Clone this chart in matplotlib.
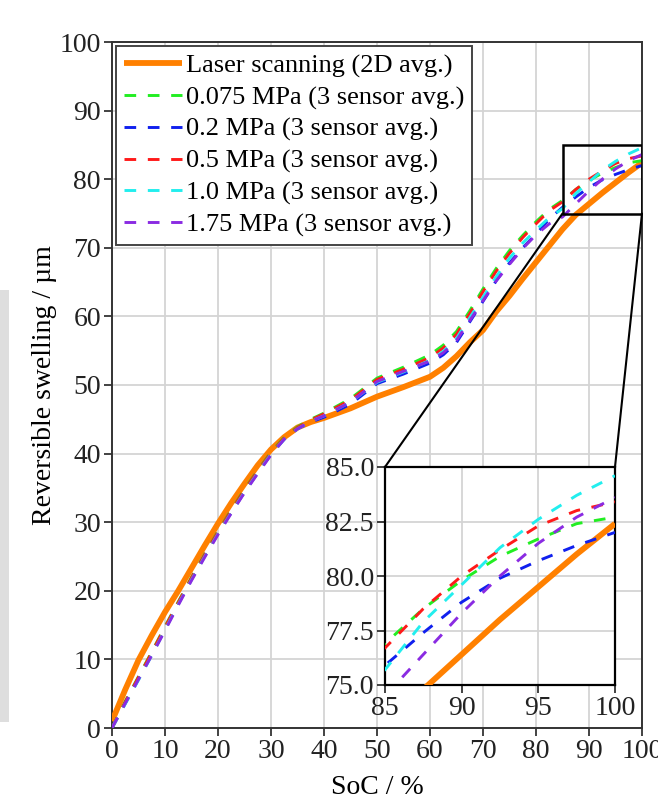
import matplotlib
matplotlib.use('Agg')
import matplotlib.pyplot as plt
from matplotlib.patches import Rectangle, ConnectionPatch

plt.rcParams['font.family'] = ['Liberation Serif', 'DejaVu Serif']

# SoC grid (%)
soc = [0, 2.5, 5, 7.5, 10, 12.5, 15, 17.5, 20, 22.5, 25, 27.5, 30, 32.5, 35, 37.5,
       40, 45, 50, 55, 60, 62.5, 65, 67.5, 70, 72.5, 75, 77.5, 80, 82.5,
       85, 87.5, 90, 92.5, 95, 97.5, 100]

laser = [1.0, 5.6, 9.9, 13.5, 16.9, 20.0, 23.3, 26.6, 29.8, 32.8, 35.6, 38.3, 40.6, 42.4, 43.8, 44.6,
         45.2, 46.6, 48.3, 49.7, 51.2, 52.5, 54.2, 56.2, 58.0, 60.7, 63.0, 65.5, 67.9, 70.3,
         72.7, 74.8, 76.4, 78.0, 79.5, 81.0, 82.4]

p0075 = [0.0, 3.9, 7.5, 11.1, 14.8, 18.4, 22.0, 25.4, 28.7, 31.8, 34.8, 37.6, 40.2, 42.4, 43.9, 45.0,
         45.9, 48.0, 51.0, 52.6, 54.4, 55.8, 57.8, 60.8, 64.0, 67.0, 69.6, 71.8, 73.8, 75.6,
         76.9, 78.5, 79.8, 80.9, 81.7, 82.4, 82.7]
p02 = [0.0, 3.6, 7.1, 10.7, 14.4, 18.1, 21.7, 25.1, 28.4, 31.4, 34.4, 37.2, 39.9, 42.1, 43.6, 44.6,
       45.3, 47.2, 50.2, 51.6, 53.2, 54.4, 56.2, 59.2, 62.2, 65.2, 67.8, 70.0, 72.0, 74.2,
       75.9, 77.4, 78.8, 79.9, 80.7, 81.4, 82.0]
p05 = [0.0, 3.8, 7.4, 11.0, 14.7, 18.3, 21.9, 25.3, 28.6, 31.7, 34.7, 37.5, 40.1, 42.3, 43.8, 44.9,
       45.8, 47.8, 50.8, 52.3, 54.0, 55.4, 57.4, 60.4, 63.6, 66.6, 69.2, 71.5, 73.5, 75.4,
       76.7, 78.5, 80.0, 81.2, 82.3, 83.0, 83.4]
p10 = [0.0, 3.5, 7.0, 10.6, 14.3, 18.0, 21.6, 25.0, 28.3, 31.4, 34.4, 37.2, 39.9, 42.1, 43.6, 44.7,
       45.5, 47.5, 50.4, 51.9, 53.6, 54.9, 56.8, 59.8, 62.8, 65.8, 68.5, 70.7, 72.6, 74.4,
       75.7, 77.9, 79.6, 81.3, 82.6, 83.7, 84.6]
p175 = [0.0, 3.6, 7.1, 10.6, 14.2, 17.9, 21.5, 24.9, 28.2, 31.3, 34.3, 37.1, 39.8, 42.1, 43.6, 44.7,
        45.5, 47.5, 50.5, 52.0, 53.5, 54.7, 56.5, 59.4, 62.3, 65.2, 67.6, 69.9, 71.9, 73.5,
        74.5, 76.4, 78.3, 80.0, 81.5, 82.7, 83.6]

series = [
    ('0.075 MPa (3 sensor avg.)', p0075, '#22ee22'),
    ('0.2 MPa (3 sensor avg.)', p02, '#1020ee'),
    ('0.5 MPa (3 sensor avg.)', p05, '#ff1a1a'),
    ('1.0 MPa (3 sensor avg.)', p10, '#22eeee'),
    ('1.75 MPa (3 sensor avg.)', p175, '#8a2be2'),
]
laser_label = 'Laser scanning (2D avg.)'
orange = '#ff8000'

main_ticks_x = [0, 10, 20, 30, 40, 50, 60, 70, 80, 90, 100]
main_ticks_y = [0, 10, 20, 30, 40, 50, 60, 70, 80, 90, 100]
inset_ticks_x = [85, 90, 95, 100]
inset_ticks_y = [75.0, 77.5, 80.0, 82.5, 85.0]
zoom_x = (85, 100)
zoom_y = (75, 85)

fs = 20
dash = (4, 4)
lw_o = 4.2
lw_d = 2.1

fig = plt.figure(figsize=(6.58, 8.01), dpi=100)
fig.patches.append(Rectangle((0, 1 - 722 / 801), 9 / 658, 432 / 801, transform=fig.transFigure,
                             facecolor='#dedede', edgecolor='none', zorder=0))

ax = fig.add_axes([112 / 658, 1 - 728 / 801, 530 / 658, 686 / 801])
ax.plot(soc, laser, color=orange, lw=lw_o, label=laser_label, zorder=3, solid_capstyle='butt')
for lab, vals, c in series:
    ax.plot(soc, vals, color=c, lw=lw_d, dashes=dash, label=lab, zorder=4)
ax.set_xlim(0, 100)
ax.set_ylim(0, 100)
ax.set_xticks(main_ticks_x)
ax.set_yticks(main_ticks_y)
ax.grid(True, color='#d4d4d4', lw=1.3)
ax.set_axisbelow(True)
ax.tick_params(direction='out', length=6, width=1.2, labelsize=fs, pad=2, colors='#222222')
for s in ax.spines.values():
    s.set_color('#333333')
    s.set_linewidth(1.4)
ax.set_xlabel('SoC / %', fontsize=fs, labelpad=8)
ax.set_ylabel('Reversible swelling / µm', fontsize=fs, labelpad=2)

leg = ax.legend(loc='upper left', fontsize=19, frameon=True, fancybox=False,
                borderaxespad=0.15, borderpad=0.3, labelspacing=0.3,
                handlelength=2.2, handletextpad=0.15)
leg.get_frame().set_edgecolor('#444444')
leg.get_frame().set_linewidth(1.4)
leg.get_frame().set_alpha(1)

# zoom box
ax.add_patch(Rectangle((zoom_x[0], zoom_y[0]), zoom_x[1] - zoom_x[0], zoom_y[1] - zoom_y[0],
                       fill=False, edgecolor='black', lw=1.8, zorder=6))

ins = fig.add_axes([385 / 658, 1 - 685 / 801, 230 / 658, 218 / 801])
ins.plot(soc, laser, color=orange, lw=lw_o, zorder=3, solid_capstyle='butt')
for lab, vals, c in series:
    ins.plot(soc, vals, color=c, lw=lw_d, dashes=dash, zorder=4)
ins.set_xlim(*zoom_x)
ins.set_ylim(*zoom_y)
ins.set_xticks(inset_ticks_x)
ins.set_yticks(inset_ticks_y)
ins.set_yticklabels([f'{v:.1f}' for v in inset_ticks_y])
ins.grid(True, color='#d4d4d4', lw=1.3)
ins.set_axisbelow(True)
ins.tick_params(direction='out', length=6, width=1.2, labelsize=fs, pad=2, colors='#222222')
for s in ins.spines.values():
    s.set_color('black')
    s.set_linewidth(1.6)

for xa, ya, xb, yb in [(zoom_x[0], zoom_y[0], 0, 1), (zoom_x[1], zoom_y[0], 1, 1)]:
    con = ConnectionPatch(xyA=(xa, ya), coordsA=ax.transData, xyB=(xb, yb), coordsB=ins.transAxes,
                          color='black', lw=1.5, zorder=7)
    fig.add_artist(con)

fig.savefig('out.png', dpi=100)
